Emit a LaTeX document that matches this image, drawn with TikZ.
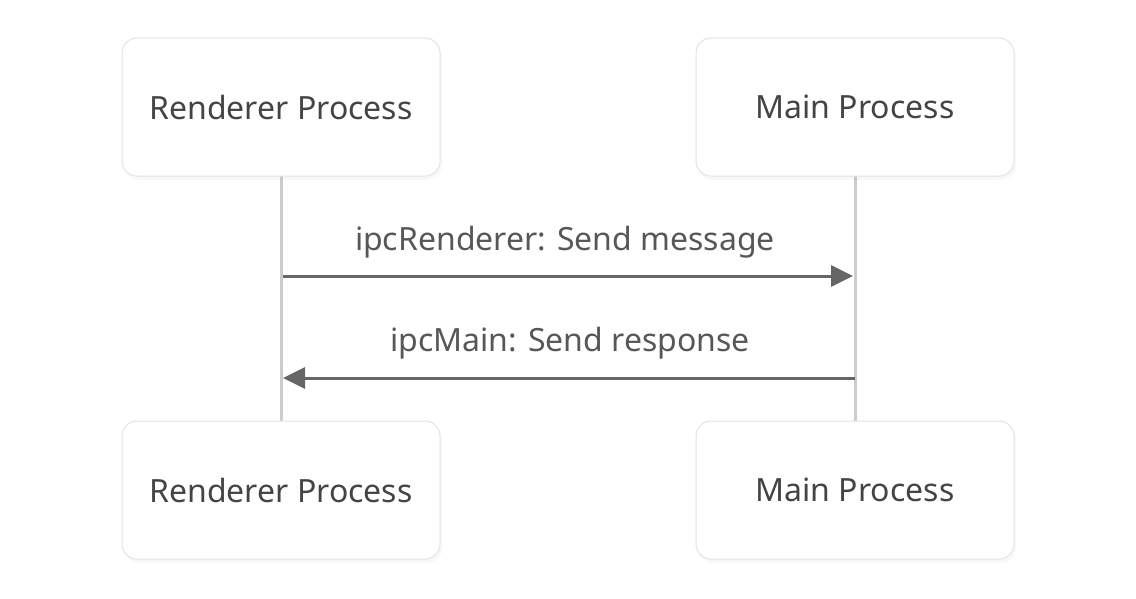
\documentclass[tikz,border=0pt]{standalone}
\usepackage{fontspec}
\setmainfont{Noto Sans}
\usepackage{tikz}
\usetikzlibrary{arrows.meta, shadows}

\definecolor{boxline}{HTML}{E3E3E3}
\definecolor{lifeline}{HTML}{CCCCCC}
\definecolor{msgline}{HTML}{666666}
\definecolor{txt}{HTML}{444444}

\begin{document}
\begin{tikzpicture}[x=1pt, y=-1pt,
    actor/.style={rectangle, rounded corners=15pt, draw=boxline, line width=1pt, fill=white,
        minimum width=318pt, minimum height=138pt, text=txt, font=\fontsize{32}{38}\selectfont,
        drop shadow={opacity=0.06, shadow xshift=2pt, shadow yshift=-4pt}},
    life/.style={draw=lifeline, line width=3pt},
    msg/.style={draw=msgline, line width=3pt, -{Triangle[length=22pt, width=21pt]}},
    msglabel/.style={text=txt!90, font=\fontsize{32}{38}\selectfont}]
            \useasboundingbox (0,0) rectangle (1136,598);

            % lifelines
            \coordinate (rtop) at (281,175);
            \coordinate (rbot) at (281,421);
            \coordinate (mtop) at (855,175);
            \coordinate (mbot) at (855,421);
            \draw[life] (rtop) -- (rbot);
            \draw[life] (mtop) -- (mbot);

            % actors, top
            \node[actor] (rend1) at (281,107) {Renderer Process};
            \node[actor] (main1) at (855,107) {Main Process};

            % actors, bottom
            \node[actor] (rend2) at (281,490) {Renderer Process};
            \node[actor] (main2) at (855,490) {Main Process};

            % message 1
            \coordinate (m1a) at (283,276);
            \coordinate (m1b) at (853,276);
            \node[msglabel] (send) at (565,242) {ipcRenderer: Send message};
            \draw[msg] (m1a) -- (m1b);

            % message 2
            \coordinate (m2a) at (855,378);
            \coordinate (m2b) at (283,378);
            \node[msglabel] (resp) at (570,343) {ipcMain: Send response};
            \draw[msg] (m2a) -- (m2b);
        \end{tikzpicture}
\end{document}
